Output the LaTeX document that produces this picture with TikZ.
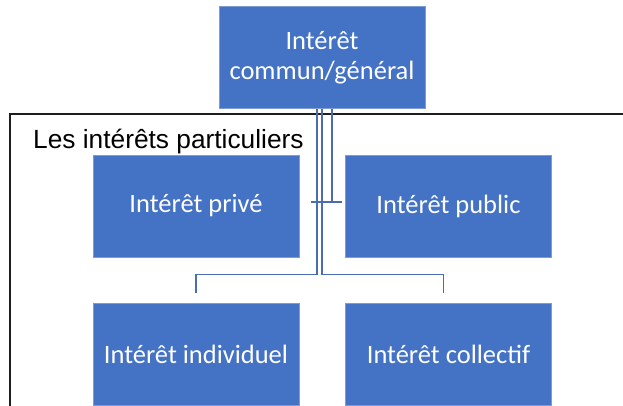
\documentclass[tikz,border=0pt]{standalone}
\usepackage{fontspec}
\setmainfont{Liberation Sans}
\newfontfamily\carlito{Carlito}
\usetikzlibrary{calc}
\definecolor{boxblue}{HTML}{4472C4}
\definecolor{boxedge}{HTML}{7F9BD6}
\definecolor{connblue}{HTML}{4A6DB2}
\definecolor{framegray}{HTML}{1E1E1E}
\tikzset{
  orgbox/.style={fill=boxblue, draw=boxedge, line width=0.6pt, minimum width=206pt, minimum height=102pt, inner sep=0pt, text=white, align=center, font=\carlito\fontsize{26.5}{30}\selectfont},
  conn/.style={draw=connblue, line width=1.2pt},
  frameline/.style={draw=framegray, line width=1.3pt},
  framelabel/.style={anchor=base west, inner sep=0pt, font=\fontsize{26.3}{30}\selectfont, text=black}
}
\begin{document}
\begin{tikzpicture}[x=1pt, y=-1pt]
\useasboundingbox (0,0) rectangle (623,406);
\clip (0,0) rectangle (623,406);
\fill[white] (0,0) rectangle (623,406);
% outer frame
\draw[frameline] (10,114) rectangle (640,430);
\node[framelabel] (lbl) at (33,149) {Les intérêts particuliers};
% boxes
\node[orgbox] (top) at (322,57.5) {Intérêt\\commun/général};
\node[orgbox] (prive) at (196,206) {Intérêt privé};
\node[orgbox] (public) at (448.5,206) {Intérêt public};
\node[orgbox] (indiv) at (196,354) {Intérêt individuel};
\node[orgbox] (collec) at (448.5,354) {Intérêt collectif};
% connectors
\draw[conn] ($(top.south)+(10,0)$) -- ($(top.south)+(10,94)$);
\draw[conn] ($(prive.east)+(12,-4)$) -- ($(public.west)+(-3,-4)$);
\draw[conn] ($(top.south)+(-5,0)$) -- ++(0,166) -| ($(indiv.north)+(0,-10)$);
\draw[conn] (top.south) -- ++(0,166) -| ($(collec.north)+(-5,-10)$);
\end{tikzpicture}
\end{document}
